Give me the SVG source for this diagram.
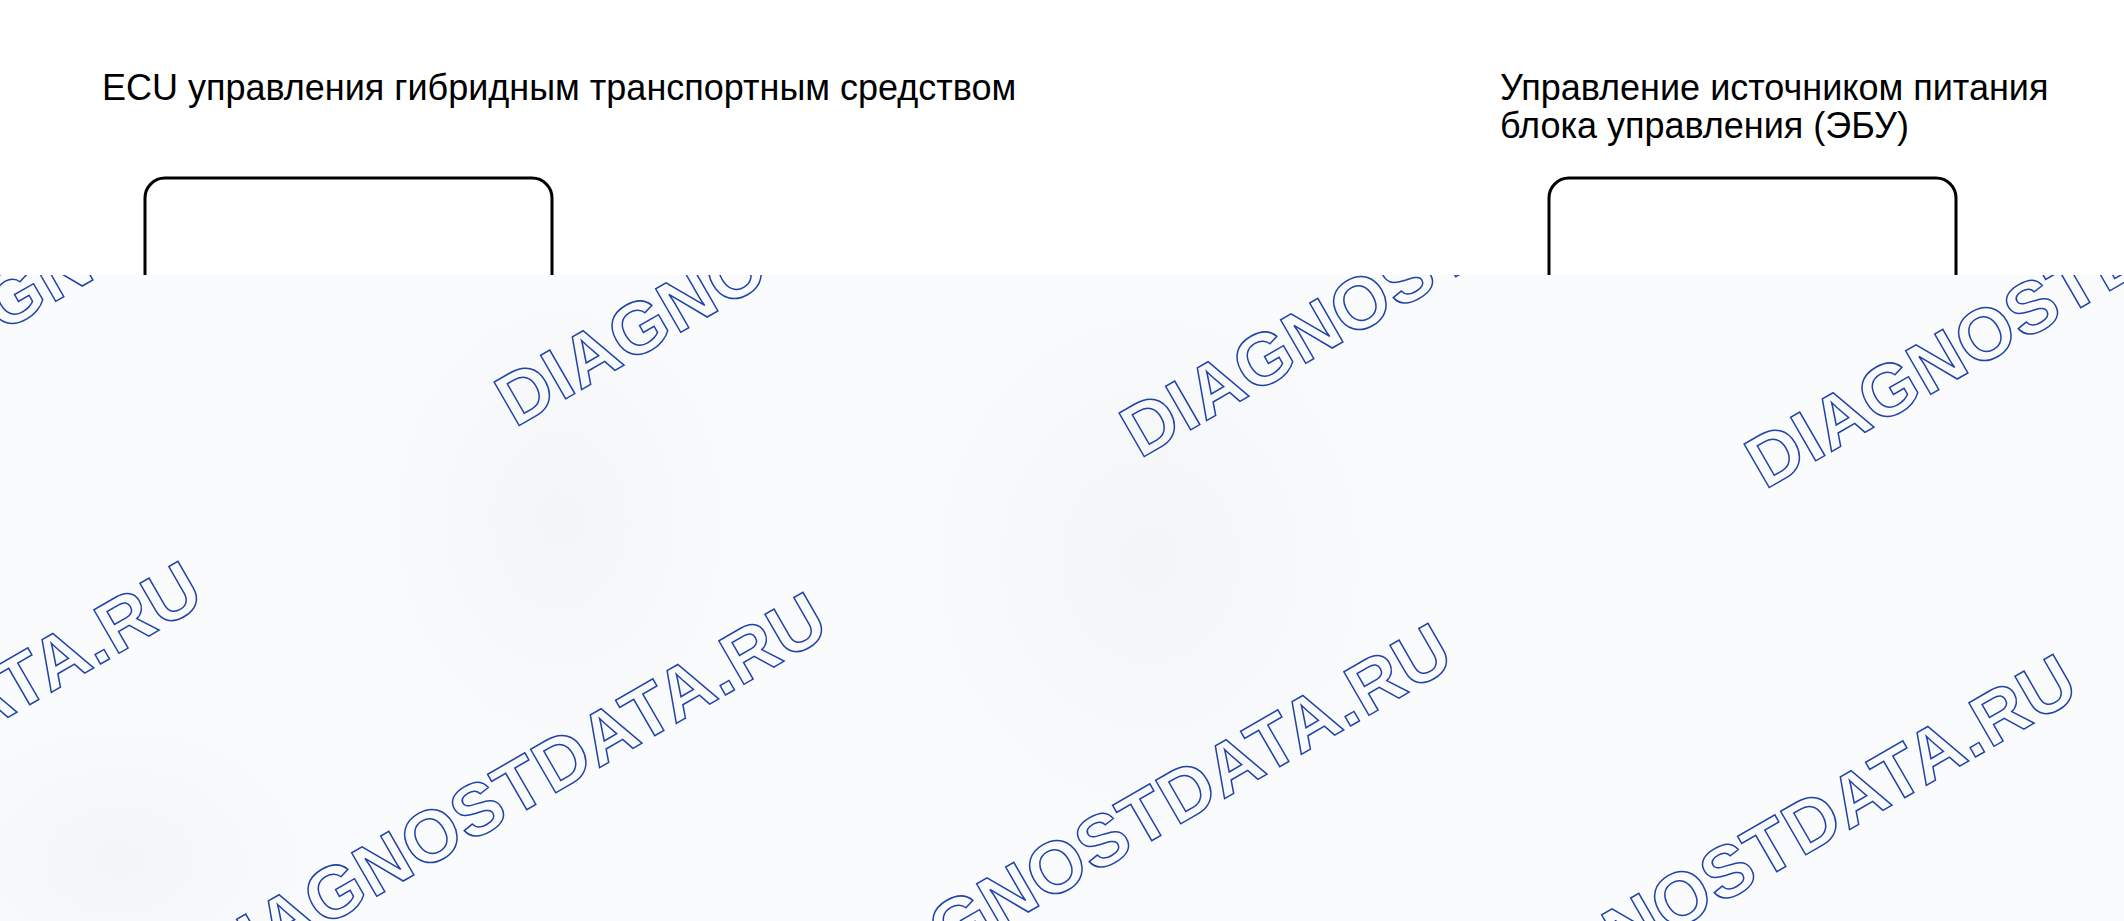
<svg xmlns="http://www.w3.org/2000/svg" width="2124" height="921" viewBox="0 0 2124 921">
  <style>
    .label { font-family: "Liberation Sans", Arial, sans-serif; font-size: 36px; fill: #000; }
    .box { fill: none; stroke: #000; stroke-width: 3; }
    .wm { font-family: "Liberation Sans", Arial, sans-serif; font-weight: bold; font-size: 73px; letter-spacing: 1px; fill: none; stroke: #2243a6; stroke-width: 1.5; }
  </style>
  <defs>
    <clipPath id="lower">
      <rect x="0" y="275" width="2124" height="646"/>
    </clipPath>
    <radialGradient id="blob" cx="0.5" cy="0.5" r="0.5">
      <stop offset="0" stop-color="#f0f1f3" stop-opacity="0.6"/>
      <stop offset="1" stop-color="#f0f1f3" stop-opacity="0"/>
    </radialGradient>
  </defs>
  <rect x="0" y="0" width="2124" height="921" fill="#ffffff"/>

  <g id="node-hybrid-ecu">
    <text class="label" x="102" y="100">ECU управления гибридным транспортным средством</text>
    <path class="box" d="M145,290 V198 A20,20 0 0 1 165,178 H532 A20,20 0 0 1 552,198 V290"/>
  </g>

  <g id="node-power-ecu">
    <text class="label" x="1500" y="100">Управление источником питания</text>
    <text class="label" x="1500" y="138">блока управления (ЭБУ)</text>
    <path class="box" d="M1549,290 V198 A20,20 0 0 1 1569,178 H1936 A20,20 0 0 1 1956,198 V290"/>
  </g>

  <g id="connectors"></g>

  <g id="overlay">
    <rect x="0" y="275" width="2124" height="646" fill="#fafbfc"/>
    <g clip-path="url(#lower)">
      <ellipse cx="1150" cy="560" rx="260" ry="300" fill="url(#blob)"/>
      <ellipse cx="560" cy="520" rx="200" ry="260" fill="url(#blob)"/>
      <ellipse cx="120" cy="860" rx="220" ry="160" fill="url(#blob)"/>
    </g>
    <g clip-path="url(#lower)">
      <text class="wm" transform="translate(-110,397) rotate(-30)">DIAGNOSTDATA.RU</text>
      <text class="wm" transform="translate(515,428) rotate(-30)">DIAGNOSTDATA.RU</text>
      <text class="wm" transform="translate(1140,459) rotate(-30)">DIAGNOSTDATA.RU</text>
      <text class="wm" transform="translate(1765,490) rotate(-30)">DIAGNOSTDATA.RU</text>
      <text class="wm" transform="translate(-414,961) rotate(-30)">DIAGNOSTDATA.RU</text>
      <text class="wm" transform="translate(211,992) rotate(-30)">DIAGNOSTDATA.RU</text>
      <text class="wm" transform="translate(836,1023) rotate(-30)">DIAGNOSTDATA.RU</text>
      <text class="wm" transform="translate(1461,1054) rotate(-30)">DIAGNOSTDATA.RU</text>
    </g>
  </g>
</svg>
